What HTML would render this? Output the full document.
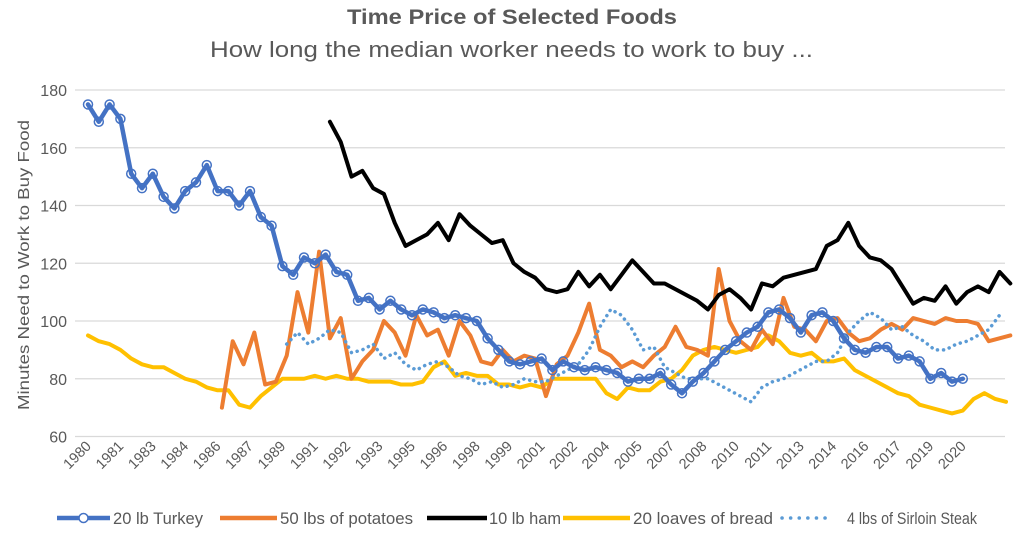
<!DOCTYPE html>
<html><head><meta charset="utf-8"><style>
body{margin:0;background:#fff;width:1025px;height:531px;overflow:hidden;font-family:"Liberation Sans",sans-serif}
</style></head><body>
<svg id="chart" width="1025" height="531" viewBox="0 0 1025 531" xmlns="http://www.w3.org/2000/svg">
<text x="347" y="24" font-size="21" font-weight="bold" fill="#595959" textLength="330" lengthAdjust="spacingAndGlyphs">Time Price of Selected Foods</text>
<text x="210" y="57" font-size="22" fill="#595959" textLength="603" lengthAdjust="spacingAndGlyphs">How long the median worker needs to work to buy ...</text>
<text transform="translate(29,265) rotate(-90)" text-anchor="middle" font-size="16" fill="#595959" textLength="290" lengthAdjust="spacingAndGlyphs">Minutes Need to Work to Buy Food</text>
<g id="grid"></g><g id="series"></g><g id="xlabels"></g><g id="legend"></g>
</svg>
<script>
const yTicks=[60,80,100,120,140,160,180];
const xTickLabels=["1980","1981","1983","1984","1986","1987","1989","1991","1992","1993","1995","1996","1998","1999","2001","2002","2004","2005","2007","2008","2010","2011","2013","2014","2016","2017","2019","2020"];
const turkeyStart=1980;
const turkey=[175,169,175,170,151,146,151,143,139,145,148,154,145,145,140,145,136,133,119,116,122,120,123,117,116,107,108,104,107,104,102,104,103,101,102,101,100,94,90,86,85,86,87,83,86,84,83,84,83,82,79,80,80,82,78,75,79,82,86,90,93,96,98,103,104,101,96,102,103,100,94,90,89,91,91,87,88,86,80,82,79,80];
const hamStart=1991.2;
const ham=[169,162,150,152,146,144,134,126,128,130,134,128,137,133,130,127,128,120,117,115,111,110,111,117,112,116,111,116,121,117,113,113,111,109,107,104,109,111,108,104,113,112,115,116,117,118,126,128,134,126,122,121,118,112,106,108,107,112,106,110,112,110,117,113];
const potatoStart=1986.2;
const potatoes=[70,93,85,96,78,79,88,110,96,124,94,101,80,86,90,100,96,88,102,95,97,88,100,95,86,85,90,86,88,87,74,85,88,96,106,90,88,84,86,84,88,91,98,91,90,88,118,100,93,90,97,92,108,98,97,93,100,101,96,93,94,97,99,97,101,100,99,101,100,100,99,93,94,95];
const breadStart=1980;
const bread=[95,93,92,90,87,85,84,84,82,80,79,77,76,76,71,70,74,77,80,80,80,81,80,81,80,80,79,79,79,78,78,79,84,86,81,82,81,81,78,78,77,78,77,80,80,80,80,80,75,73,77,76,76,79,80,83,88,90,91,90,89,90,91,95,93,89,88,89,86,86,87,83,81,79,77,75,74,71,70,69,68,69,73,75,73,72];
const steakStart=1989.2;
const steak=[92,96,92,94,97,96,89,90,92,87,89,85,83,85,86,84,81,80,78,79,77,78,80,79,79,81,83,85,90,98,104,102,97,90,91,84,82,80,80,80,78,76,74,72,77,79,80,82,84,86,86,89,96,100,103,101,97,98,95,93,90,90,92,93,95,97,102];
const STEP=0.5;
const NS="http://www.w3.org/2000/svg";
const X0=88,PX_PER_YEAR=21.6,Y0=436.5,PX_PER_UNIT=(436.5-90)/120;
function xs(t){return X0+(t-1980)*PX_PER_YEAR;}
function ys(v){return Y0-(v-60)*PX_PER_UNIT;}
function mk(tag,attrs,parent){const e=document.createElementNS(NS,tag);for(const k in attrs)e.setAttribute(k,attrs[k]);parent.appendChild(e);return e;}
const grid=document.getElementById('grid');
yTicks.forEach(v=>{
  const l=mk('line',{x1:75,x2:1005,y1:ys(v),y2:ys(v),stroke:'#d9d9d9','stroke-width':1.3},grid);
  
  
  const t=mk('text',{x:67,y:ys(v)+6,'text-anchor':'end','font-size':16,fill:'#595959'},grid);
  t.textContent=v;
  
  
});
const xl=document.getElementById('xlabels');
xTickLabels.forEach((s,i)=>{
  const x=92+i*32.4,y=447;
  const t=mk('text',{x:x,y:y,'text-anchor':'end','font-size':14.5,fill:'#595959',transform:`rotate(-45 ${x} ${y})`},xl);
  t.textContent=s;
  
  
});
const sg=document.getElementById('series');
function pts(arr,start){return arr.map((v,i)=>[xs(start+i*STEP),ys(v)]);}
function line(arr,start,color,w,extra,name){
  const p=mk('polyline',Object.assign({points:pts(arr,start).map(q=>q.join(',')).join(' '),fill:'none',stroke:color,'stroke-width':w,'stroke-linejoin':'round','stroke-linecap':'round'},extra||{}),sg);
  
  
  return p;
}
line(bread,breadStart,'#FFC000',4,null,'bread-line');
line(potatoes,potatoStart,'#ED7D31',4,null,'potatoes-line');
line(steak,steakStart,'#5B9BD5',3.5,{'stroke-dasharray':'0.1 6'},'steak-line');
line(ham,hamStart,'#000000',4,null,'ham-line');
line(turkey,turkeyStart,'#4472C4',4.5,null,'turkey-line');
pts(turkey,turkeyStart).forEach(q=>{
  const c=mk('circle',{cx:q[0],cy:q[1],r:4.5,fill:'none',stroke:'#4472C4','stroke-width':1.5},sg);
  
  
});
const lg=document.getElementById('legend');
const legendItems=[["20 lb Turkey",'#4472C4',57,53,113,90],["50 lbs of potatoes",'#ED7D31',220,57,280,133],["10 lb ham",'#000',427,60,489,72],["20 loaves of bread",'#FFC000',563,67,633,140],["4 lbs of Sirloin Steak",'#5B9BD5',780,50,847,130]];
legendItems.forEach((it,i)=>{
  const g=mk('g',{},lg);
  
  
  const y=518,x=it[2];
  if(i==4){mk('line',{x1:x+2,x2:x+it[3],y1:y,y2:y,stroke:it[1],'stroke-width':3.5,'stroke-dasharray':'0.1 8.5','stroke-linecap':'round'},g);}
  else mk('line',{x1:x,x2:x+it[3],y1:y,y2:y,stroke:it[1],'stroke-width':4.5},g);
  if(i==0)mk('circle',{cx:x+it[3]/2,cy:y,r:4.5,fill:'#fff',stroke:'#4472C4','stroke-width':1.5},g);
  const t=mk('text',{x:it[4],y:y+6,'font-size':16.5,fill:'#595959',textLength:it[5],lengthAdjust:'spacingAndGlyphs'},g);
  t.textContent=it[0];
});
</script>
</body></html>
